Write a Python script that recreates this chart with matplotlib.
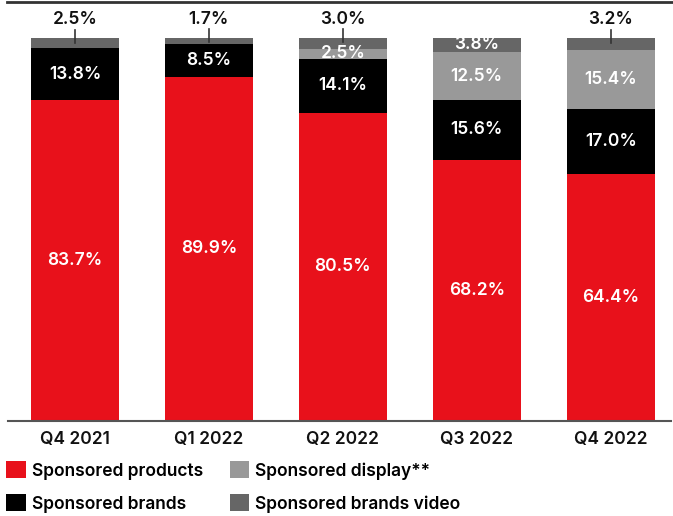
import matplotlib.pyplot as plt
from matplotlib.patches import Patch
from matplotlib.lines import Line2D

quarters = ["Q4 2021", "Q1 2022", "Q2 2022", "Q3 2022", "Q4 2022"]
products = [83.7, 89.9, 80.5, 68.2, 64.4]
brands = [13.8, 8.5, 14.1, 15.6, 17.0]
display = [0.0, 0.0, 2.5, 12.5, 15.4]
brands_video = [2.5, 1.7, 3.0, 3.8, 3.2]
# video share is written above the bar when the segment is too thin
video_outside = [True, True, True, False, True]

RED = "#e8111b"
BLACK = "#000000"
LIGHT = "#999999"
DARK = "#666666"

plt.rcParams['font.family'] = ['Inter', 'DejaVu Sans']

fig = plt.figure(figsize=(6.73, 5.16), dpi=100)
W, H = 673, 516
ax = fig.add_axes([8 / W, (H - 421) / H, 663 / W, 383 / H])

x = range(len(quarters))
width = 0.657
series = [
    ("Sponsored products", products, RED),
    ("Sponsored brands", brands, BLACK),
    ("Sponsored display**", display, LIGHT),
    ("Sponsored brands video", brands_video, DARK),
]
FS = 12.5
WT = "semibold"

bottoms = [0.0] * len(quarters)
for name, vals, col in series:
    ax.bar(x, vals, width, bottom=bottoms, color=col, linewidth=0)
    for i, v in enumerate(vals):
        if v > 0:
            if name == "Sponsored brands video" and video_outside[i]:
                top = bottoms[i] + v
                ax.plot([i, i], [top - 1.2, top + 2.2], color="#333333", lw=1.2, clip_on=False)
                ax.text(i, top + 2.6, f"{v:.1f}%", ha="center", va="bottom",
                        fontsize=FS, fontweight=WT, color="#111111", clip_on=False)
            else:
                ax.text(i, bottoms[i] + v / 2, f"{v:.1f}%", ha="center", va="center",
                        fontsize=FS, fontweight=WT, color="white")
        bottoms[i] += v

ax.set_xlim(-0.5, 4.45)
ax.set_ylim(0, 100)
for s in ["top", "right", "left"]:
    ax.spines[s].set_visible(False)
ax.spines["bottom"].set_color("#555555")
ax.spines["bottom"].set_linewidth(1.5)
ax.set_yticks([])
ax.set_xticks(list(x))
ax.set_xticklabels(quarters, fontsize=FS, fontweight=WT, color="#111111")
ax.tick_params(axis="x", length=0, pad=7)

# thin rule across the top
fig.add_artist(Line2D([7 / W, 1], [1 - 2 / H, 1 - 2 / H], color="#333333", lw=2))

handles = [Patch(facecolor=c, edgecolor="none", label=n) for n, _, c in series]
fig.legend(handles=handles, ncol=2, loc="upper left",
           bbox_to_anchor=(3 / W, 1 - 458 / H), frameon=False,
           prop={"size": FS, "weight": WT}, handlelength=1.1, handleheight=1.1,
           handletextpad=0.35, labelspacing=0.85, columnspacing=1.55,
           borderaxespad=0, borderpad=0.2)

fig.savefig("out.png", dpi=100)
